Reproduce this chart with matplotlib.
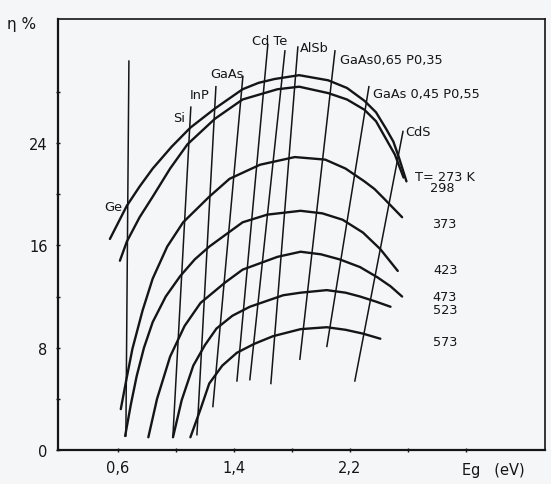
import matplotlib
matplotlib.use('Agg')
import matplotlib.pyplot as plt

# efficiency eta (%) against band gap Eg (eV), one curve per temperature
temps = ['T= 273 K', '298', '373', '423', '473', '523', '573']

eg_273 = [0.545, 0.662, 0.75, 0.84, 0.97, 1.10, 1.27, 1.46, 1.57, 1.68, 1.85,
          2.05, 2.18, 2.30, 2.38, 2.45, 2.50, 2.54, 2.59]
eta_273 = [16.5, 19.1, 20.6, 22.0, 23.7, 25.2, 26.7, 28.2, 28.7, 29.0, 29.3,
           28.9, 28.3, 27.3, 26.4, 25.1, 24.1, 22.8, 21.0]

eg_298 = [0.614, 0.662, 0.75, 0.84, 0.96, 1.08, 1.27, 1.46, 1.70, 1.85, 2.05,
          2.18, 2.30, 2.38, 2.44, 2.51, 2.57]
eta_298 = [14.8, 16.3, 18.2, 19.8, 22.0, 23.9, 25.9, 27.4, 28.2, 28.4, 27.9,
           27.4, 26.6, 25.7, 24.5, 23.1, 21.3]

eg_373 = [0.62, 0.66, 0.70, 0.77, 0.84, 0.94, 1.05, 1.23, 1.37, 1.58, 1.82,
          2.03, 2.17, 2.30, 2.37, 2.44, 2.50, 2.56]
eta_373 = [3.2, 5.6, 7.9, 10.9, 13.4, 15.9, 17.8, 19.8, 21.2, 22.3, 22.9,
           22.7, 22.0, 21.0, 20.4, 19.6, 18.9, 18.2]

eg_423 = [0.65, 0.69, 0.73, 0.78, 0.84, 0.93, 1.03, 1.13, 1.23, 1.46, 1.63,
          1.86, 2.01, 2.15, 2.29, 2.41, 2.53]
eta_423 = [1.1, 3.6, 5.8, 8.0, 10.0, 12.0, 13.6, 14.9, 15.9, 17.8, 18.4,
           18.7, 18.5, 18.0, 17.0, 15.7, 14.0]

eg_473 = [0.81, 0.87, 0.96, 1.06, 1.17, 1.34, 1.46, 1.70, 1.86, 2.00, 2.13,
          2.27, 2.39, 2.48, 2.56]
eta_473 = [1.0, 4.0, 7.3, 9.7, 11.5, 13.1, 14.1, 15.1, 15.5, 15.3, 14.9,
           14.3, 13.5, 12.8, 12.0]

eg_523 = [0.98, 1.04, 1.12, 1.20, 1.28, 1.39, 1.51, 1.74, 1.86, 2.04, 2.17,
          2.27, 2.38, 2.48]
eta_523 = [1.0, 3.9, 6.6, 8.2, 9.5, 10.5, 11.2, 12.1, 12.3, 12.5, 12.3,
           12.0, 11.6, 11.2]

eg_573 = [1.10, 1.17, 1.23, 1.32, 1.42, 1.54, 1.67, 1.86, 2.04, 2.17, 2.29, 2.41]
eta_573 = [1.0, 3.2, 5.2, 6.6, 7.6, 8.3, 8.9, 9.45, 9.6, 9.4, 9.1, 8.7]

# semiconductor lines: (Eg, eta) at top end and at bottom end
materials = ['Ge', 'Si', 'InP', 'GaAs', 'CdTe', 'CdTe', 'AlSb',
             'GaAs0,65 P0,35', 'GaAs 0,45 P0,55', 'CdS']
mat_eg_top = [0.676, 1.103, 1.276, 1.462, 1.634, 1.752, 1.841, 2.097, 2.331, 2.566]
mat_eta_top = [30.4, 26.8, 28.4, 29.2, 31.7, 31.2, 31.5, 31.2, 28.4, 24.9]
mat_eg_bot = [0.655, 0.979, 1.145, 1.255, 1.421, 1.510, 1.655, 1.855, 2.041, 2.234]
mat_eta_bot = [1.1, 1.0, 1.2, 3.4, 5.4, 5.5, 5.2, 7.1, 8.1, 5.4]

curves = [(eg_273, eta_273), (eg_298, eta_298), (eg_373, eta_373),
          (eg_423, eta_423), (eg_473, eta_473), (eg_523, eta_523),
          (eg_573, eta_573)]

bg = '#f5f6f8'
ink = '#151515'

fig = plt.figure(figsize=(5.51, 4.85), dpi=100, facecolor=bg)
ax = fig.add_axes([0.105, 0.070, 0.884, 0.889], facecolor=bg)

for eg, eta in curves:
    ax.plot(eg, eta, color=ink, lw=1.7, solid_capstyle='round',
            solid_joinstyle='round')

for i in range(len(materials)):
    ax.plot([mat_eg_top[i], mat_eg_bot[i]], [mat_eta_top[i], mat_eta_bot[i]],
            color=ink, lw=1.1)

# labels next to the lines
lab = dict(fontsize=9.3, color=ink)
ax.text(0.63, 19.0, 'Ge', ha='right', va='center', **lab)
ax.text(1.062, 26.0, 'Si', ha='right', va='center', **lab)
ax.text(1.234, 27.8, 'InP', ha='right', va='center', **lab)
ax.text(1.352, 29.4, 'GaAs', ha='center', va='center', **lab)
ax.text(1.648, 32.0, 'Cd Te', ha='center', va='center', **lab)
ax.text(1.855, 31.5, 'AlSb', ha='left', va='center', **lab)
ax.text(2.131, 30.5, materials[7], ha='left', va='center', **lab)
ax.text(2.359, 27.9, materials[8], ha='left', va='center', **lab)
ax.text(2.579, 24.9, 'CdS', ha='left', va='center', **lab)

t_pos = [(2.648, 21.4), (2.752, 20.5), (2.766, 17.7), (2.779, 14.1),
         (2.77, 12.0), (2.77, 11.0), (2.77, 8.5)]
for name, (x, y) in zip(temps, t_pos):
    ax.text(x, y, name, ha='left', va='center', **lab)

ax.set_xlim(0.186, 3.545)
ax.set_ylim(0, 33.7)

ax.set_xticks([0.6, 1.4, 2.2])
ax.set_xticklabels(['0,6', '1,4', '2,2'])
ax.set_xticks([1.0, 1.8, 2.6, 3.0], minor=True)
ax.set_yticks([0, 8, 16, 24])
ax.set_yticks([4, 12, 20, 28], minor=True)

ax.tick_params(which='both', direction='inout', length=3, width=1.0,
               colors=ink, labelsize=10.5, pad=6)
ax.tick_params(which='minor', length=2.5)

for side in ['left', 'bottom']:
    ax.spines[side].set_linewidth(1.6)
for side in ['top', 'right']:
    ax.spines[side].set_linewidth(1.2)
for s in ax.spines.values():
    s.set_color(ink)

ax.text(3.19, -0.9, 'Eg   (eV)', ha='center', va='top', fontsize=10.5, color=ink)
fig.text(0.013, 0.950, '\u03b7 %', ha='left', va='center', fontsize=11, color=ink)

plt.savefig('out.png', dpi=100, facecolor=bg)
plt.close()
